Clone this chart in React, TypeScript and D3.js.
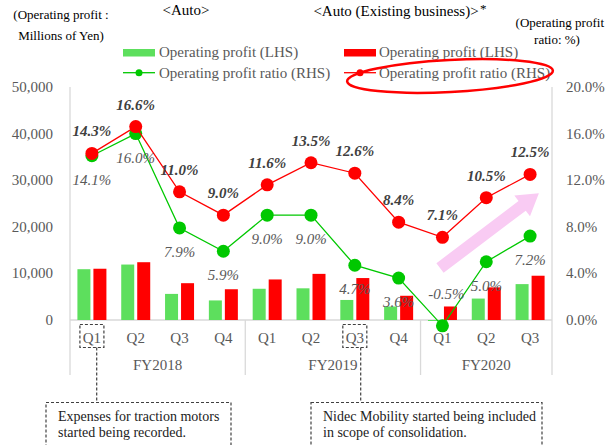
import * as d3 from "d3"
import React, { useRef, useEffect } from "react"

const quarters = ["Q1", "Q2", "Q3", "Q4", "Q1", "Q2", "Q3", "Q4", "Q1", "Q2", "Q3"]
const years = ["FY2018", "FY2019", "FY2020"]
const yearCounts = [4, 4, 3]

// operating profit, millions of yen
const autoProfit = [10900, 11900, 5600, 4200, 6700, 6800, 4300, 2900, -200, 4600, 7700]
const existingProfit = [11000, 12400, 7900, 6600, 8700, 9900, 9000, 5200, 2900, 7000, 9500]

// operating profit ratio, %
const autoRatio = [14.1, 16.0, 7.9, 5.9, 9.0, 9.0, 4.7, 3.6, -0.5, 5.0, 7.2]
const existingRatio = [14.3, 16.6, 11.0, 9.0, 11.6, 13.5, 12.6, 8.4, 7.1, 10.5, 12.5]

const leftTicks = [0, 10000, 20000, 30000, 40000, 50000]
const rightTicks = [0, 4, 8, 12, 16, 20]

const W = 606, H = 445
const FONT = "'Liberation Serif', 'Times New Roman', serif"
const GREEN_BAR = "#5ddf5d"
const GREEN = "#00c800"
const RED = "#ff0000"
const GREY = "#595959"
const AXIS = "#d9d9d9"

const pct = (v) => d3.format(".1f")(v).replace("\u2212", "-") + "%"

function App() {
    const ref = useRef(null)

    useEffect(() => {
        const svg = d3.select(ref.current)
        svg.selectAll("*").remove()

        const x = d3.scaleBand().domain(quarters.map((q, i) => String(i))).range([70, 552]).padding(0)
        const cx = (i) => x(String(i)) + x.bandwidth() / 2
        const yL = d3.scaleLinear().domain([0, 50000]).range([320, 87])
        const yR = d3.scaleLinear().domain([0, 20]).range([320, 87])

        const txt = (tx, ty, s, opts = {}) => svg.append("text")
            .attr("x", tx).attr("y", ty).text(s)
            .attr("font-family", FONT)
            .attr("font-size", opts.size || 15)
            .attr("fill", opts.fill || "#000")
            .attr("text-anchor", opts.anchor || "start")
            .attr("font-style", opts.style || "normal")
            .attr("font-weight", opts.weight || "normal")

        // titles
        txt(186, 15, "<Auto>", { anchor: "middle" })
        txt(396, 16, "<Auto (Existing business)>", { anchor: "middle" })
        txt(480, 13, "*", { size: 13 })
        txt(61, 19, "(Operating profit :", { anchor: "middle", size: 13 })
        txt(61, 40, "Millions of Yen)", { anchor: "middle", size: 13 })
        txt(604, 27, "(Operating profit", { anchor: "end", size: 13 })
        txt(557, 44, "ratio: %)", { anchor: "middle", size: 13 })

        // axes lines
        svg.append("line").attr("x1", 70).attr("x2", 70).attr("y1", 87).attr("y2", 375).attr("stroke", AXIS).attr("stroke-width", 1.3)
        svg.append("line").attr("x1", 552).attr("x2", 552).attr("y1", 87).attr("y2", 375).attr("stroke", AXIS).attr("stroke-width", 1.3)
        svg.append("line").attr("x1", 70).attr("x2", 552).attr("y1", yL(0)).attr("y2", yL(0)).attr("stroke", AXIS).attr("stroke-width", 1.3)

        // year separators + year labels
        let acc = 0
        yearCounts.forEach((n, k) => {
            const start = acc
            acc += n
            const x0 = x(String(start))
            const x1 = x(String(acc - 1)) + x.bandwidth()
            if (k > 0) {
                svg.append("line").attr("x1", x0).attr("x2", x0).attr("y1", yL(0)).attr("y2", 375).attr("stroke", AXIS).attr("stroke-width", 1.3)
            }
            txt((x0 + x1) / 2, 370, years[k], { anchor: "middle", fill: GREY })
        })

        leftTicks.forEach(t => txt(53, yL(t) + 5, d3.format(",")(t), { anchor: "end", fill: GREY }))
        rightTicks.forEach(t => txt(566, yR(t) + 5, pct(t), { fill: GREY }))
        quarters.forEach((q, i) => txt(cx(i), 343, q, { anchor: "middle", fill: GREY }))

        // bars
        const bw = 13
        svg.selectAll("rect.auto").data(autoProfit).enter().append("rect")
            .attr("x", (d, i) => cx(i) - 14.5)
            .attr("y", d => yL(Math.max(0, d)))
            .attr("width", bw)
            .attr("height", d => Math.max(1, Math.abs(yL(d) - yL(0))))
            .attr("fill", GREEN_BAR)
        svg.selectAll("rect.exist").data(existingProfit).enter().append("rect")
            .attr("x", (d, i) => cx(i) + 1.5)
            .attr("y", d => yL(Math.max(0, d)))
            .attr("width", bw)
            .attr("height", d => Math.abs(yL(d) - yL(0)))
            .attr("fill", RED)

        // pink arrow
        const L = 124
        const arrow = [[0, -6], [L - 21, -6], [L - 21, -13], [L, 0], [L - 21, 13], [L - 21, 6], [0, 6]]
        svg.append("polygon")
            .attr("points", arrow.map(p => p.join(",")).join(" "))
            .attr("transform", "translate(440,268) rotate(-37.1)")
            .attr("fill", "#f9cbf3")

        // ratio lines
        const line = d3.line().x((d, i) => cx(i)).y(d => yR(d))
        svg.append("path").attr("d", line(autoRatio)).attr("fill", "none").attr("stroke", GREEN).attr("stroke-width", 1.3)
        svg.selectAll("circle.auto").data(autoRatio).enter().append("circle")
            .attr("cx", (d, i) => cx(i)).attr("cy", d => yR(d)).attr("r", 6.5).attr("fill", GREEN)
        svg.append("path").attr("d", line(existingRatio)).attr("fill", "none").attr("stroke", RED).attr("stroke-width", 1.3)
        svg.selectAll("circle.exist").data(existingRatio).enter().append("circle")
            .attr("cx", (d, i) => cx(i)).attr("cy", d => yR(d)).attr("r", 6.5).attr("fill", RED)

        // data labels
        autoRatio.forEach((d, i) => {
            const neg = d < 0
            txt(cx(i) + (neg ? 4 : 0), yR(d) + (neg ? -27 : 29), pct(d),
                { anchor: "middle", fill: GREY, style: "italic" })
        })
        existingRatio.forEach((d, i) => {
            txt(cx(i), yR(d) - 17, pct(d),
                { anchor: "middle", fill: "#404040", style: "italic", weight: "bold" })
        })

        // legend
        svg.append("rect").attr("x", 123).attr("y", 49).attr("width", 32).attr("height", 7.5).attr("fill", GREEN_BAR)
        txt(159, 57, "Operating profit (LHS)", { fill: GREY })
        svg.append("line").attr("x1", 123).attr("x2", 155).attr("y1", 72.7).attr("y2", 72.7).attr("stroke", GREEN).attr("stroke-width", 1.3)
        svg.append("circle").attr("cx", 139).attr("cy", 72.7).attr("r", 3.5).attr("fill", GREEN)
        txt(159, 78, "Operating profit ratio (RHS)", { fill: GREY })

        svg.append("rect").attr("x", 344).attr("y", 49).attr("width", 32).attr("height", 7.5).attr("fill", RED)
        txt(379, 57, "Operating profit (LHS)", { fill: GREY })
        svg.append("line").attr("x1", 344).attr("x2", 376).attr("y1", 72.7).attr("y2", 72.7).attr("stroke", RED).attr("stroke-width", 1.3)
        svg.append("circle").attr("cx", 360).attr("cy", 72.7).attr("r", 3.5).attr("fill", RED)
        txt(379, 78, "Operating profit ratio (RHS)", { fill: GREY })

        // hand drawn ellipse
        svg.append("ellipse").attr("cx", 450).attr("cy", 76).attr("rx", 103).attr("ry", 16)
            .attr("transform", "rotate(-3,450,76)")
            .attr("fill", "none").attr("stroke", RED).attr("stroke-width", 2.5)

        // annotations
        const dash = (sel) => sel.attr("fill", "none").attr("stroke", "#404040").attr("stroke-width", 1.2).attr("stroke-dasharray", "3,2")
        const notes = [
            { i: 0, bx: 46, bw: 185, lx: 96.7, lines: ["Expenses for traction motors", "started being recorded."] },
            { i: 6, bx: 311, bw: 231, lx: 360.7, lines: ["Nidec Mobility started being included", "in scope of consolidation."] },
        ]
        notes.forEach(n => {
            dash(svg.append("rect").attr("x", cx(n.i) - 12).attr("y", 324.5).attr("width", 24).attr("height", 23))
            dash(svg.append("line").attr("x1", n.lx).attr("x2", n.lx).attr("y1", 347.5).attr("y2", 402.5))
            dash(svg.append("rect").attr("x", n.bx).attr("y", 402.5).attr("width", n.bw).attr("height", 60))
            n.lines.forEach((s, k) => txt(n.bx + 12, 421 + k * 15.5, s, { size: 14, fill: "#222" }))
        })
    }, [])

    return (
        <div style={{ position: "absolute", left: 0, top: 0 }}>
            <svg ref={ref} width={W} height={H} style={{ display: "block", background: "#fff" }}></svg>
        </div>
    )
}

export default App
